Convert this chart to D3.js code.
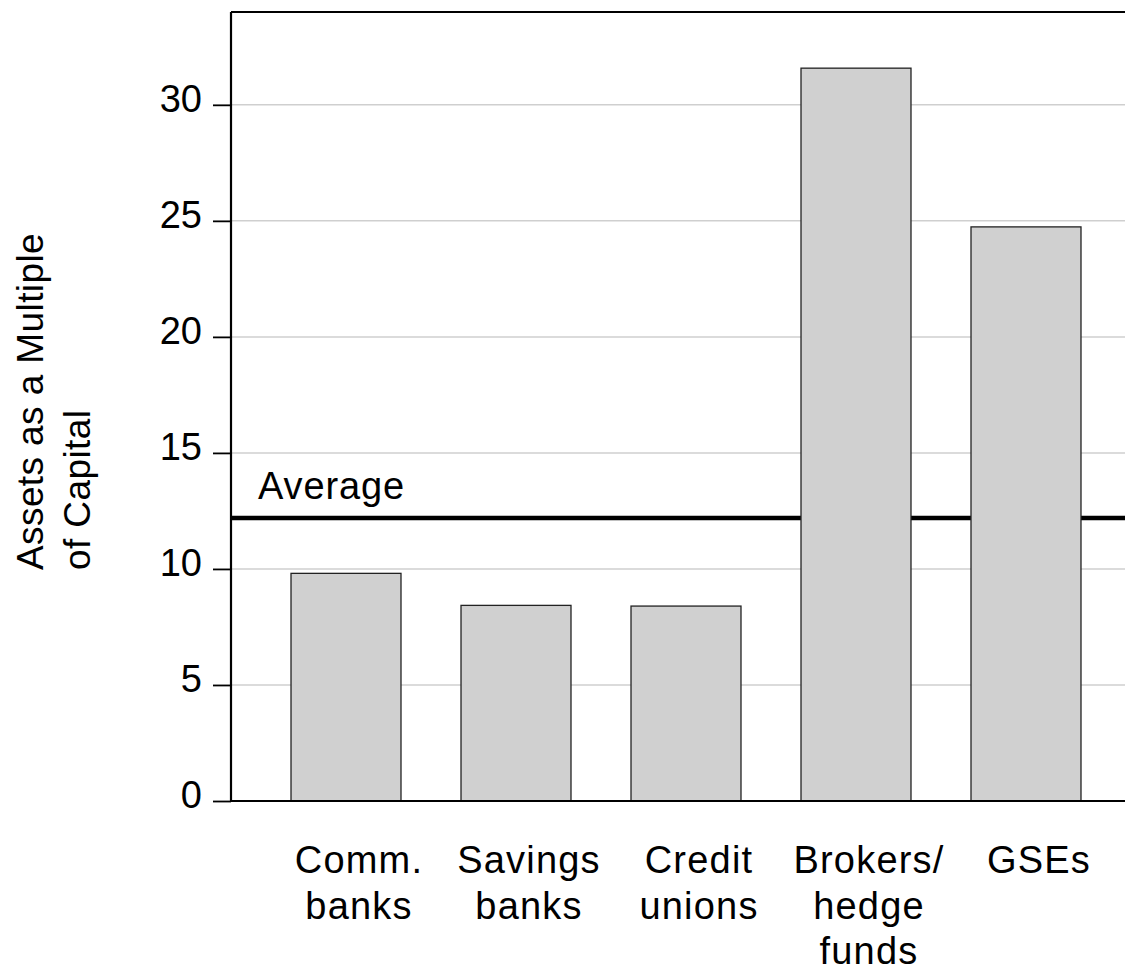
<!DOCTYPE html>
<html lang="en">
<head>
    <meta charset="UTF-8">
    <title>Assets as a Multiple of Capital</title>
    <script src="https://d3js.org/d3.v7.min.js"></script>
    <style>
        body { margin: 0; background: #fff; }
        text { font-family: "Liberation Sans", Arial, sans-serif; fill: #000; }
    </style>
</head>
<body>
<script>
    // data
    const categories = [
        ["Comm.", "banks"],
        ["Savings", "banks"],
        ["Credit", "unions"],
        ["Brokers/", "hedge", "funds"],
        ["GSEs"]
    ];
    const values = [9.81, 8.43, 8.40, 31.58, 24.74];
    const average = 12.2;
    const yTicks = [0, 5, 10, 15, 20, 25, 30];

    const width = 1125;
    const height = 972;
    const margin = { top: 12, left: 231, bottom: 801 };

    const svg = d3.select("body").append("svg")
        .attr("width", width)
        .attr("height", height);

    const y = d3.scaleLinear()
        .domain([0, 34])
        .range([margin.bottom, margin.top]);

    const x = d3.scaleBand()
        .domain(d3.range(values.length))
        .range([margin.left, 1141])
        .paddingInner(0.353)
        .paddingOuter(0.353);

    // gridlines
    svg.append("g")
        .selectAll("line")
        .data(yTicks.filter(d => d > 0))
        .enter().append("line")
        .attr("x1", margin.left)
        .attr("x2", width)
        .attr("y1", d => y(d))
        .attr("y2", d => y(d))
        .attr("stroke", "#cfcfcf")
        .attr("stroke-width", 1.5);

    // average line (behind the bars)
    svg.append("line")
        .attr("x1", margin.left)
        .attr("x2", width)
        .attr("y1", y(average))
        .attr("y2", y(average))
        .attr("stroke", "#000")
        .attr("stroke-width", 4.5);

    svg.append("text")
        .attr("x", 258)
        .attr("y", y(average) - 19)
        .attr("font-size", 38)
        .attr("letter-spacing", 0.9)
        .text("Average");

    // bars
    svg.append("g")
        .selectAll("rect")
        .data(values)
        .enter().append("rect")
        .attr("x", (d, i) => x(i))
        .attr("y", d => y(d))
        .attr("width", x.bandwidth())
        .attr("height", d => y(0) - y(d))
        .attr("fill", "#d0d0d0")
        .attr("stroke", "#222")
        .attr("stroke-width", 1.3);

    // y axis
    const yAxis = svg.append("g")
        .attr("transform", `translate(${margin.left},0)`)
        .call(d3.axisLeft(y).tickValues(yTicks).tickSize(18).tickPadding(11));
    yAxis.select(".domain").remove();
    yAxis.selectAll(".tick line").attr("stroke", "#000").attr("stroke-width", 1.8);
    yAxis.selectAll(".tick text")
        .attr("font-size", 38)
        .attr("font-family", "Liberation Sans, Arial, sans-serif")
        .attr("dy", "0.18em");

    // frame: left, top, bottom
    svg.append("line")
        .attr("x1", margin.left).attr("x2", margin.left)
        .attr("y1", margin.top).attr("y2", margin.bottom)
        .attr("stroke", "#000").attr("stroke-width", 2.2);
    svg.append("line")
        .attr("x1", margin.left).attr("x2", width)
        .attr("y1", margin.top).attr("y2", margin.top)
        .attr("stroke", "#000").attr("stroke-width", 2.2);
    svg.append("line")
        .attr("x1", margin.left).attr("x2", width)
        .attr("y1", margin.bottom).attr("y2", margin.bottom)
        .attr("stroke", "#000").attr("stroke-width", 2.2);

    // category labels
    const labels = svg.append("g")
        .selectAll("text")
        .data(categories)
        .enter().append("text")
        .attr("font-size", 38)
        .attr("letter-spacing", 1.2)
        .attr("text-anchor", "middle")
        .attr("transform", (d, i) => `translate(${x(i) + x.bandwidth() / 2 + 13},873)`);
    labels.selectAll("tspan")
        .data(d => d)
        .enter().append("tspan")
        .attr("x", 0)
        .attr("y", (d, i) => i * 45.5)
        .text(d => d);

    // y axis title
    const title = svg.append("text")
        .attr("transform", "translate(43,570) rotate(-90)")
        .attr("font-size", 37)
        .attr("letter-spacing", 0.4);
    title.append("tspan").attr("x", 0).attr("y", 0).text("Assets as a Multiple");
    title.append("tspan").attr("x", 0).attr("y", 47).text("of Capital");
</script>
</body>
</html>
